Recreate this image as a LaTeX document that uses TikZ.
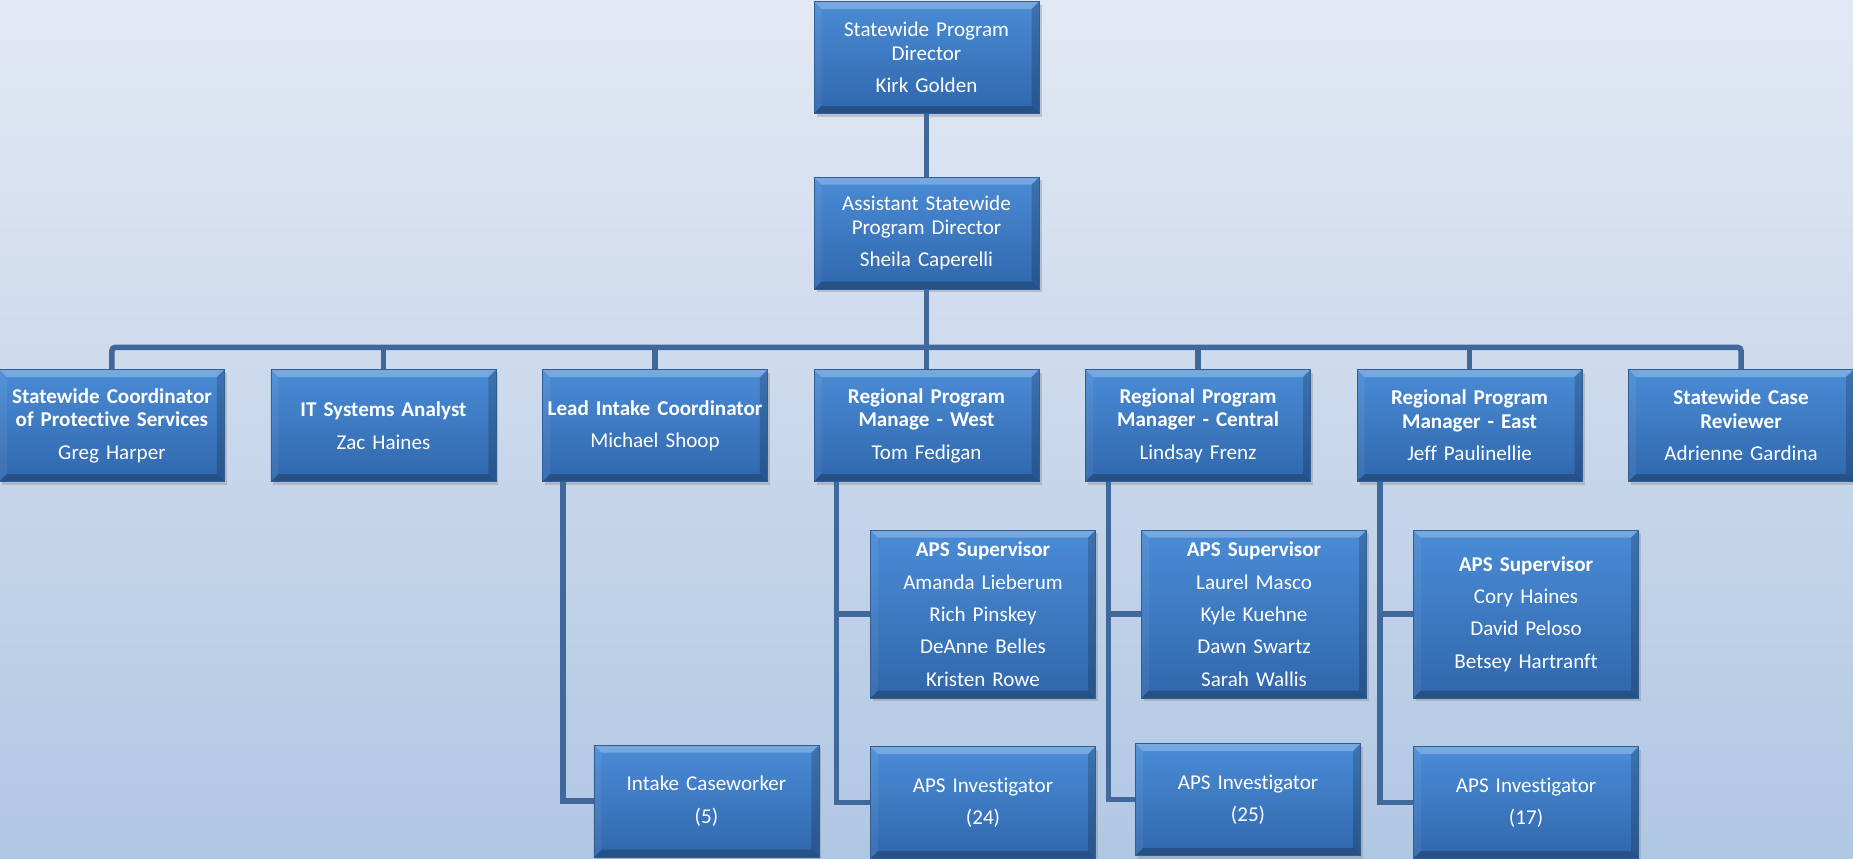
\documentclass[tikz,border=0pt]{standalone}
\usepackage{fontspec}
\setmainfont{Carlito}[Ligatures=NoCommon]
\usetikzlibrary{positioning, shadows}
\definecolor{bgtop}{RGB}{227,233,244}
\definecolor{bgbot}{RGB}{176,199,227}
\definecolor{boxtop}{RGB}{74,140,214}
\definecolor{boxbot}{RGB}{48,103,172}
\definecolor{boxline}{RGB}{50,92,146}
\definecolor{linkblue}{RGB}{64,104,154}
\newcommand{\bev}{0.15cm}
\tikzstyle{post} = [rectangle, minimum width=4.5cm, minimum height=2.24cm, text width=4.44cm, inner xsep=0.03cm, inner ysep=0pt, align=center, text=white, font=\fontsize{12}{13.4}\selectfont, top color=boxtop, bottom color=boxbot, draw=boxline, line width=0.3pt, drop shadow={opacity=0.35, shadow xshift=0.05cm, shadow yshift=-0.06cm},
  path picture={
    \path (path picture bounding box.north west) coordinate (pnw) (path picture bounding box.north east) coordinate (pne)
          (path picture bounding box.south west) coordinate (psw) (path picture bounding box.south east) coordinate (pse);
    \fill[white, opacity=0.25] (pnw) -- (pne) -- ([xshift=-\bev,yshift=-\bev]pne) -- ([xshift=\bev,yshift=-\bev]pnw) -- cycle;
    \fill[white, opacity=0.06] (pnw) -- ([xshift=\bev,yshift=-\bev]pnw) -- ([xshift=\bev,yshift=\bev]psw) -- (psw) -- cycle;
    \fill[black, opacity=0.18] (pne) -- ([xshift=-\bev,yshift=-\bev]pne) -- ([xshift=-\bev,yshift=\bev]pse) -- (pse) -- cycle;
    \fill[black, opacity=0.22] (psw) -- (pse) -- ([xshift=-\bev,yshift=\bev]pse) -- ([xshift=\bev,yshift=\bev]psw) -- cycle;
  }]
\tikzstyle{team} = [minimum height=3.36cm]
\tikzstyle{link} = [draw=linkblue, line width=0.11cm]

\begin{document}
\begin{tikzpicture}[node distance=0.92cm]
\shade[top color=bgtop, bottom color=bgbot] (0,0) rectangle (37.06,-17.16);
\useasboundingbox (0,0) rectangle (37.06,-17.16);
% Top
\node (dir) [post] at (18.53,-1.15) {Statewide Program\\ Director\\[5pt] Kirk Golden};
\node (asst) [post, below=1.26cm of dir] {Assistant Statewide\\ Program Director\\[5pt] Sheila Caperelli};
% Row 3
\node (west) [post, below=1.6cm of asst] {\textbf{Regional Program}\\ \textbf{Manage - West}\\[5pt] Tom Fedigan};
\node (intake) [post, left=of west] {\textbf{Lead Intake Coordinator}\\[5pt] Michael Shoop};
\node (it) [post, left=of intake] {\textbf{IT Systems Analyst}\\[5pt] Zac Haines};
\node (coord) [post, left=of it] {\textbf{Statewide Coordinator}\\ \textbf{of Protective Services}\\[5pt] Greg Harper};
\node (central) [post, right=of west] {\textbf{Regional Program}\\ \textbf{Manager - Central}\\[5pt] Lindsay Frenz};
\node (east) [post, right=of central] {\textbf{Regional Program}\\ \textbf{Manager - East}\\[5pt] Jeff Paulinellie};
\node (review) [post, right=of east] {\textbf{Statewide Case}\\ \textbf{Reviewer}\\[5pt] Adrienne Gardina};
% Supervisors
\node (supw) [post, team, below=0.96cm of west, xshift=1.13cm] {\textbf{APS Supervisor}\\[5pt] Amanda Lieberum\\[5pt] Rich Pinskey\\[5pt] DeAnne Belles\\[5pt] Kristen Rowe};
\node (supc) [post, team, below=0.96cm of central, xshift=1.12cm] {\textbf{APS Supervisor}\\[5pt] Laurel Masco\\[5pt] Kyle Kuehne\\[5pt] Dawn Swartz\\[5pt] Sarah Wallis};
\node (supe) [post, team, below=0.96cm of east, xshift=1.13cm] {\textbf{APS Supervisor}\\[5pt] Cory Haines\\[5pt] David Peloso\\[5pt] Betsey Hartranft};
% Bottom row
\node (case) [post, below=5.26cm of intake, xshift=1.03cm] {Intake Caseworker\\[5pt] (5)};
\node (invw) [post, below=0.96cm of supw] {APS Investigator\\[5pt] (24)};
\node (invc) [post, below=0.9cm of supc, xshift=-0.12cm] {APS Investigator\\[5pt] (25)};
\node (inve) [post, below=0.96cm of supe] {APS Investigator\\[5pt] (17)};

% Lines
\coordinate (bus) at ([yshift=-1.16cm]asst.south);
\draw [link] (dir) -- (asst);
\draw [link] (asst) -- (bus);
\draw [link, rounded corners=2pt] (coord) |- (bus) -| (review);
\foreach \n in {it, intake, west, central, east}
  \draw [link] (\n) -- (\n |- bus);
\draw [link] ([xshift=0.42cm]intake.south west) |- (case.west);
\draw [link] ([xshift=0.46cm]west.south west) |- (supw.west);
\draw [link] ([xshift=0.46cm]west.south west) |- (invw.west);
\draw [link] ([xshift=0.46cm]central.south west) |- (supc.west);
\draw [link] ([xshift=0.46cm]central.south west) |- (invc.west);
\draw [link] ([xshift=0.46cm]east.south west) |- (supe.west);
\draw [link] ([xshift=0.46cm]east.south west) |- (inve.west);
\end{tikzpicture}
\end{document}
